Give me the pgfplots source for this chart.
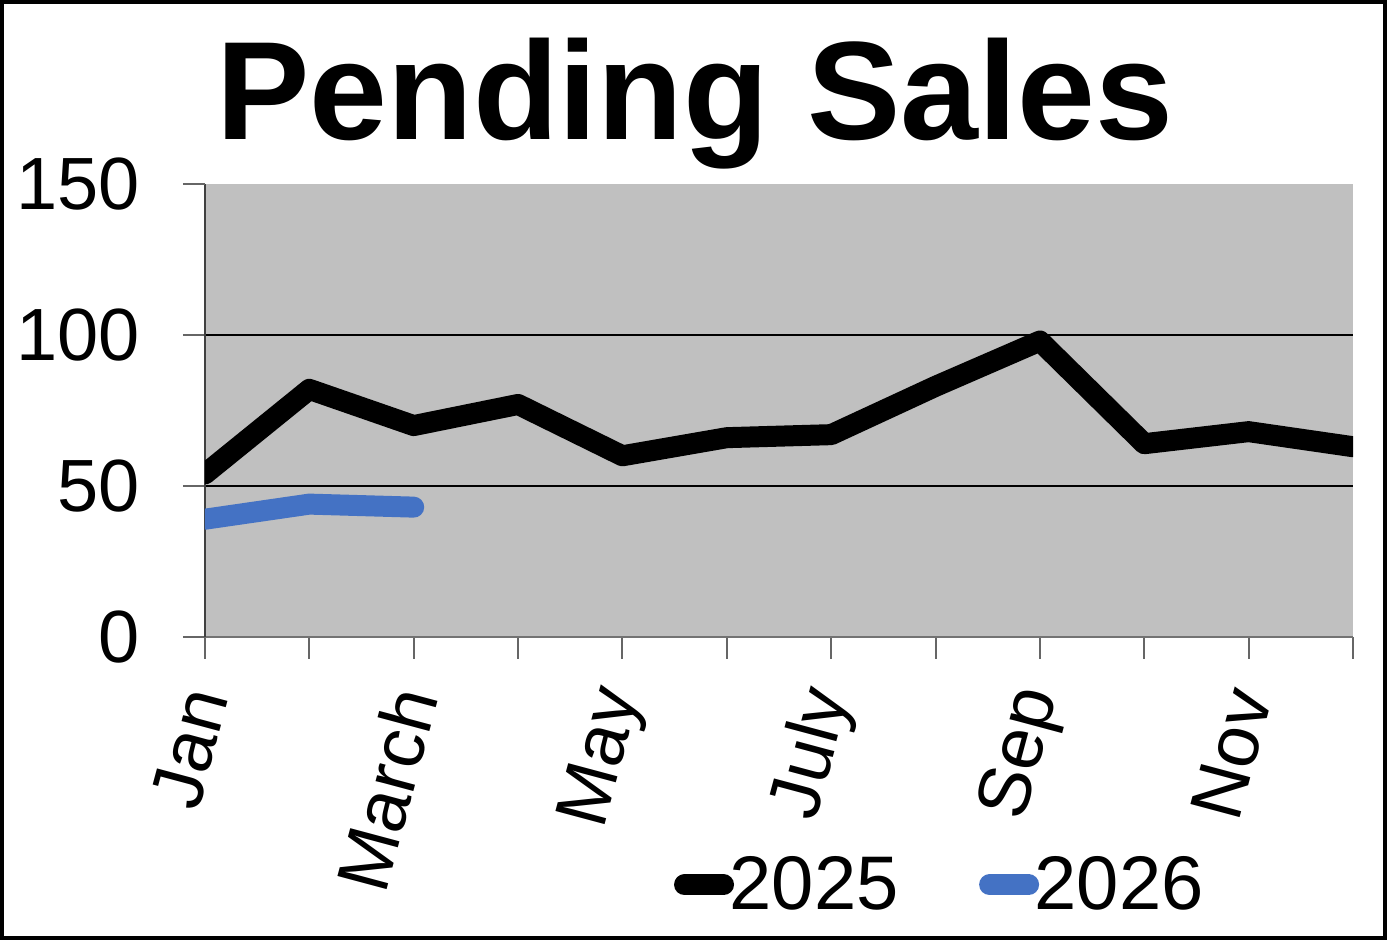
\documentclass[border=0pt]{standalone}
\usepackage{fontspec}
\setmainfont{Liberation Sans}
\usepackage{pgfplots}
\pgfplotsset{compat=1.18}
\definecolor{plotbg}{RGB}{192,192,192}
\definecolor{blue26}{RGB}{68,114,196}
\begin{document}
\begin{tikzpicture}
\useasboundingbox (-102.5pt,-151.5pt) rectangle (591pt,318.5pt);
\draw[line width=2pt] (-101.5pt,-150.5pt) rectangle (590pt,317.5pt);
\begin{axis}[
  at={(0pt,0pt)}, anchor=south west,
  scale only axis, width=574pt, height=226.5pt,
  xmin=1, xmax=12, ymin=0, ymax=150,
  axis background/.style={fill=plotbg},
  axis x line*=bottom, axis y line*=left,
  x axis line style={draw=black!55, line width=1pt, -},
  y axis line style={draw=black!75, line width=1pt, -},
  xtick={1,...,12},
  xticklabels={Jan,,March,,May,,July,,Sep,,Nov,},
  ytick={0,50,100}, extra y ticks={150}, extra y tick style={grid=none},
  ymajorgrids, grid style={black, line width=0.75pt},
  tick align=outside, major tick length=11pt,
  tick style={draw=black!60, line width=1pt},
  /pgf/number format/assume math mode=true,
  ticklabel style={font=\fontsize{37}{37}\selectfont},
  yticklabel style={anchor=east, inner sep=0pt, xshift=-21.5pt},
  xticklabel style={yshift=-15.5pt, rotate=75, anchor=east, inner sep=0pt},
  legend style={draw=none, fill=none, at={(0.403,-0.547)}, anchor=west,
    font=\fontsize{38}{38}\selectfont,
    nodes={inner xsep=-2.25pt, inner ysep=0pt},
    /tikz/every even column/.append style={column sep=42.5pt}},
  legend columns=2,
  legend cell align=left,
  legend image code/.code={\draw[#1, line cap=round] (0pt,0pt) -- (19.5pt,0pt);},
]
\addplot[black, line width=10.5pt, line cap=round, line join=round] coordinates {
(1,54) (2,82) (3,70) (4,77) (5,60) (6,66) (7,67) (8,83) (9,98) (10,64) (11,68) (12,63)};
\addlegendentry{2025}
\addplot[blue26, line width=10.5pt, line cap=round, line join=round] coordinates {
(1,39) (2,44) (3,43)};
\addlegendentry{2026}
\end{axis}
\node[anchor=base, font=\bfseries\fontsize{70}{70}\selectfont] at (245pt,248.5pt) {Pending Sales};
\end{tikzpicture}
\end{document}
